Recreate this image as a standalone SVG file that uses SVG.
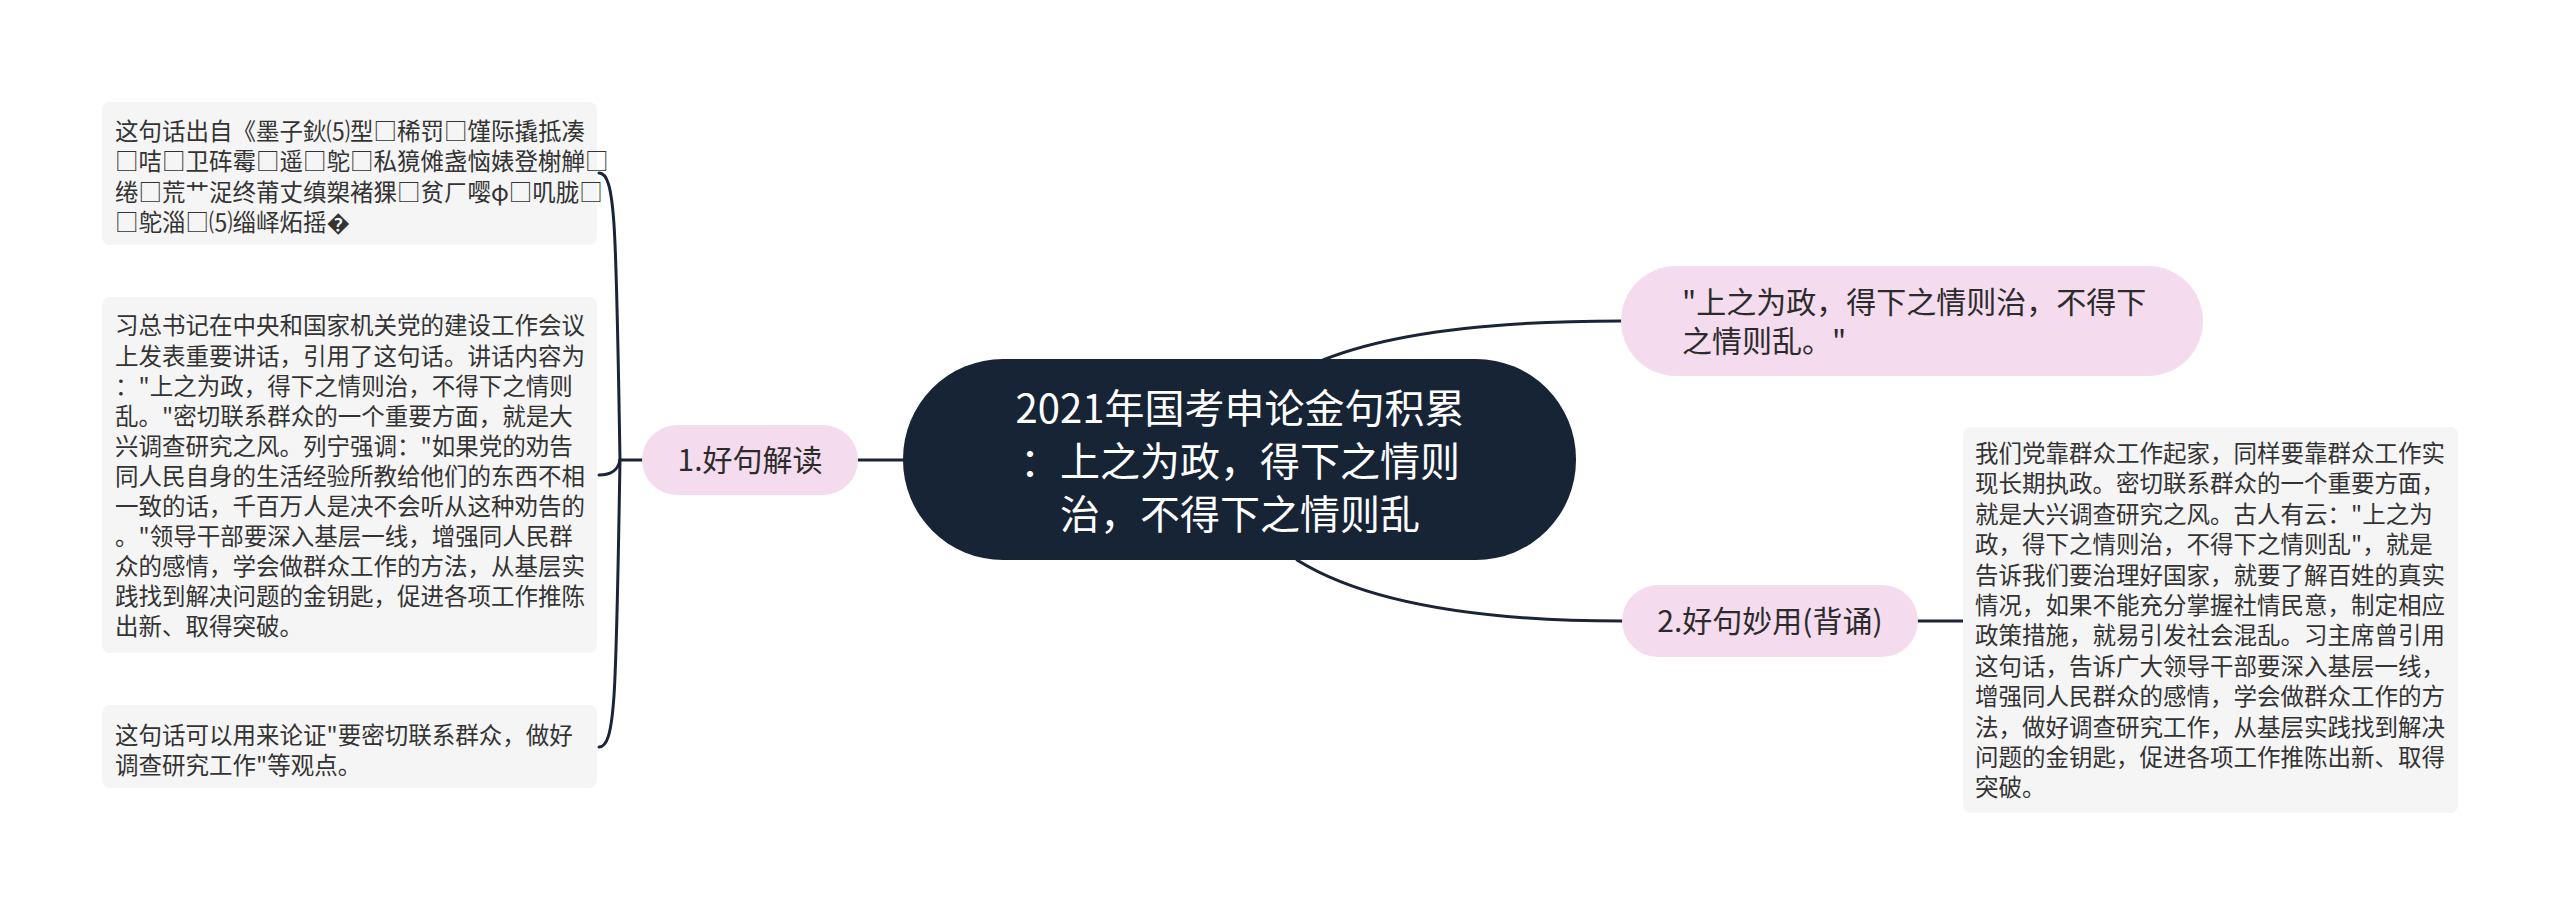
<svg xmlns="http://www.w3.org/2000/svg" width="2560" height="916" viewBox="0 0 2560 916">
<style>
text{font-family:"Noto Sans CJK SC","Microsoft YaHei","Noto Sans",sans-serif;}
.box{fill:#f5f5f5;}
.pink{fill:#f4dbee;}
.root{fill:#172436;}
.bt{font-size:23.5px;fill:#333333;}
.l1{font-size:30px;fill:#2b2b2b;}
.rt{font-size:40px;fill:#ffffff;}
.conn{fill:none;stroke:#1a2438;stroke-width:3;stroke-linecap:round;}
</style>
<rect width="2560" height="916" fill="#ffffff"/>
<g id="connectors">
<path class="conn" d="M903,460 L858,460"/>
<path class="conn" d="M642,460 L620,460"/>
<path class="conn" d="M620,460 C616,230 616,173 599,173"/>
<path class="conn" d="M620,460 C618,470 612,475 599,475"/>
<path class="conn" d="M620,460 C616,690 616,747 599,747"/>
<path class="conn" d="M1323,360 Q1420,321 1621,321"/>
<path class="conn" d="M1297,560 Q1395,621 1622,621"/>
<path class="conn" d="M1918,621 L1963,621"/>
</g>
<g id="root">
<rect class="root" x="903" y="359" width="673" height="201" rx="100"/>
<text class="rt" text-anchor="middle"><tspan x="1240" y="423">2021年国考申论金句积累</tspan><tspan x="1240" y="476">：上之为政，得下之情则</tspan><tspan x="1240" y="529">治，不得下之情则乱</tspan></text>
</g>
<g id="n1">
<rect class="pink" x="642" y="425" width="216" height="70" rx="35"/>
<text class="l1" x="750" y="471" text-anchor="middle">1.好句解读</text>
</g>
<g id="n2">
<rect class="pink" x="1621" y="266" width="582" height="110" rx="55"/>
<text class="l1"><tspan x="1682" y="313">"上之为政，得下之情则治，不得下</tspan><tspan x="1682" y="352">之情则乱。"</tspan></text>
</g>
<g id="n3">
<rect class="pink" x="1622" y="585" width="296" height="72" rx="36"/>
<text class="l1" x="1770" y="632" text-anchor="middle">2.好句妙用(背诵)</text>
</g>
<g id="boxA">
<rect class="box" x="102" y="102" width="495" height="143" rx="8"/>
<text class="bt"><tspan x="115" y="140">这句话出自《墨子鈥⑸型□稀罚□馑际撬抵凑</tspan><tspan x="115" y="170.3">□咭□卫砗霉□遥□鸵□私獍傩盏恼婊登榭觯□</tspan><tspan x="115" y="200.6">绻□荒艹浞终莆丈缜槊褚猓□贫ㄏ嘤φ□叽胧□</tspan><tspan x="115" y="230.9">□鸵淄□⑸缁峄炻摇�</tspan></text>
</g>
<g id="boxB">
<rect class="box" x="102" y="297" width="495" height="356" rx="8"/>
<text class="bt"><tspan x="115" y="334.4">习总书记在中央和国家机关党的建设工作会议</tspan><tspan x="115" y="364.5">上发表重要讲话，引用了这句话。讲话内容为</tspan><tspan x="115" y="394.6">："上之为政，得下之情则治，不得下之情则</tspan><tspan x="115" y="424.7">乱。"密切联系群众的一个重要方面，就是大</tspan><tspan x="115" y="454.8">兴调查研究之风。列宁强调："如果党的劝告</tspan><tspan x="115" y="484.9">同人民自身的生活经验所教给他们的东西不相</tspan><tspan x="115" y="515">一致的话，千百万人是决不会听从这种劝告的</tspan><tspan x="115" y="545.1">。"领导干部要深入基层一线，增强同人民群</tspan><tspan x="115" y="575.2">众的感情，学会做群众工作的方法，从基层实</tspan><tspan x="115" y="605.3">践找到解决问题的金钥匙，促进各项工作推陈</tspan><tspan x="115" y="635.4">出新、取得突破。</tspan></text>
</g>
<g id="boxC">
<rect class="box" x="102" y="705" width="495" height="83" rx="8"/>
<text class="bt"><tspan x="115" y="744">这句话可以用来论证"要密切联系群众，做好</tspan><tspan x="115" y="774.3">调查研究工作"等观点。</tspan></text>
</g>
<g id="boxD">
<rect class="box" x="1963" y="427" width="495" height="386" rx="8"/>
<text class="bt"><tspan x="1975" y="462">我们党靠群众工作起家，同样要靠群众工作实</tspan><tspan x="1975" y="492.4">现长期执政。密切联系群众的一个重要方面，</tspan><tspan x="1975" y="522.8">就是大兴调查研究之风。古人有云："上之为</tspan><tspan x="1975" y="553.2">政，得下之情则治，不得下之情则乱"，就是</tspan><tspan x="1975" y="583.6">告诉我们要治理好国家，就要了解百姓的真实</tspan><tspan x="1975" y="614">情况，如果不能充分掌握社情民意，制定相应</tspan><tspan x="1975" y="644.4">政策措施，就易引发社会混乱。习主席曾引用</tspan><tspan x="1975" y="674.8">这句话，告诉广大领导干部要深入基层一线，</tspan><tspan x="1975" y="705.2">增强同人民群众的感情，学会做群众工作的方</tspan><tspan x="1975" y="735.6">法，做好调查研究工作，从基层实践找到解决</tspan><tspan x="1975" y="766">问题的金钥匙，促进各项工作推陈出新、取得</tspan><tspan x="1975" y="796.4">突破。</tspan></text>
</g>
</svg>
